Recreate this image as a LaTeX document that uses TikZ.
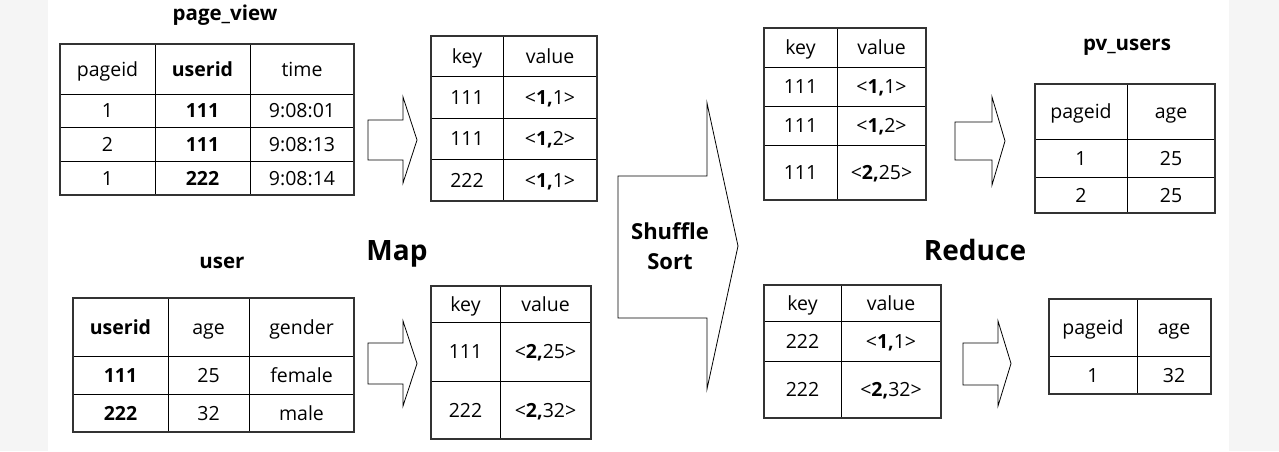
\documentclass[tikz,border=0pt]{standalone}
\usepackage{fontspec}
\setmainfont{Open Sans}
\begin{document}
\begin{tikzpicture}[x=1pt,y=-1pt,
  cell/.style={font=\fontsize{19.5}{22}\selectfont, inner sep=0pt, anchor=center, text height=14pt, text depth=0pt},
  ttl/.style={font=\fontsize{20.5}{24}\selectfont\bfseries, inner sep=0pt, text height=15pt, text depth=0pt},
  big/.style={font=\fontsize{28}{32}\selectfont\bfseries, inner sep=0pt, text height=20pt, text depth=0pt},
  gridline/.style={line width=0.9pt, black},
  frame/.style={line width=1.3pt, black!80},
  blockarrow/.style={line width=0.8pt, black, fill=white, line join=miter}]
\useasboundingbox (0,0) rectangle (1279,451);
\fill[white] (0,0) rectangle (1279,451);
\fill[black!4] (0,0) rectangle (48,451);
\fill[black!4] (1229,0) rectangle (1279,451);

% ---------- page_view ----------
\node[ttl] (tpv) at (225,13) {page\_view};
\draw[gridline] (155,44) -- (155,195) (250,44) -- (250,195)
  (60,94) -- (354,94) (60,127) -- (354,127) (60,161) -- (354,161);
\draw[frame] (60,44) rectangle (354,195);
\node[cell] (pv11) at (107.5,69) {pageid};
\node[cell] (pv12) at (202.5,69) {\bfseries userid};
\node[cell] (pv13) at (302,69) {time};
\node[cell] (pv21) at (107.5,110.5) {1};
\node[cell] (pv22) at (202.5,110.5) {\bfseries 111};
\node[cell] (pv23) at (302,110.5) {9:08:01};
\node[cell] (pv31) at (107.5,144) {2};
\node[cell] (pv32) at (202.5,144) {\bfseries 111};
\node[cell] (pv33) at (302,144) {9:08:13};
\node[cell] (pv41) at (107.5,178) {1};
\node[cell] (pv42) at (202.5,178) {\bfseries 222};
\node[cell] (pv43) at (302,178) {9:08:14};

% ---------- user ----------
\node[ttl] (tus) at (222,261) {user};
\draw[gridline] (168,298) -- (168,432) (249,298) -- (249,432)
  (73,356) -- (354,356) (73,394) -- (354,394);
\draw[frame] (73,298) rectangle (354,432);
\node[cell] (us11) at (120.5,327) {\bfseries userid};
\node[cell] (us12) at (208.5,327) {age};
\node[cell] (us13) at (301.5,327) {gender};
\node[cell] (us21) at (120.5,375) {\bfseries 111};
\node[cell] (us22) at (208.5,375) {25};
\node[cell] (us23) at (301.5,375) {female};
\node[cell] (us31) at (120.5,413) {\bfseries 222};
\node[cell] (us32) at (208.5,413) {32};
\node[cell] (us33) at (301.5,413) {male};

% ---------- map arrows ----------
\draw[blockarrow] (368,120) -- (403,120) -- (403,97) -- (417,140) -- (403,183) -- (403,160) -- (368,160) -- cycle;
\draw[blockarrow] (368,343) -- (403,343) -- (403,321) -- (417,363.5) -- (403,406) -- (403,384) -- (368,384) -- cycle;

% ---------- map kv 1 ----------
\draw[gridline] (503,36) -- (503,201) (431,76) -- (597,76) (431,118) -- (597,118) (431,159) -- (597,159);
\draw[frame] (431,36) rectangle (597,201);
\node[cell] (m11) at (467,56) {key};
\node[cell] (m12) at (550,56) {value};
\node[cell] (m21) at (467,97) {111};
\node[cell] (m22) at (550,97) {<\textbf{1,}1>};
\node[cell] (m31) at (467,138.5) {111};
\node[cell] (m32) at (550,138.5) {<\textbf{1,}2>};
\node[cell] (m41) at (467,180) {222};
\node[cell] (m42) at (550,180) {<\textbf{1,}1>};

% ---------- map kv 2 ----------
\draw[gridline] (500,286) -- (500,439) (431,322) -- (591,322) (431,381) -- (591,381);
\draw[frame] (431,286) rectangle (591,439);
\node[cell] (n11) at (465.5,304) {key};
\node[cell] (n12) at (545.5,304) {value};
\node[cell] (n21) at (465.5,351.5) {111};
\node[cell] (n22) at (545.5,351.5) {<\textbf{2,}25>};
\node[cell] (n31) at (465.5,410) {222};
\node[cell] (n32) at (545.5,410) {<\textbf{2,}32>};

\node[big] (lmap) at (397,250) {Map};

% ---------- shuffle ----------
\draw[blockarrow] (618,176) -- (707,176) -- (707,103) -- (738,246) -- (707,389) -- (707,318) -- (618,318) -- cycle;
\node[font=\fontsize{22}{30}\selectfont\bfseries, align=center, inner sep=0pt] (lsh) at (670,246) {Shuffle\\Sort};

% ---------- reduce kv 1 ----------
\draw[gridline] (837,28) -- (837,200) (764,67) -- (926,67) (764,106) -- (926,106) (764,145) -- (926,145);
\draw[frame] (764,28) rectangle (926,200);
\node[cell] (r11) at (800.5,47.5) {key};
\node[cell] (r12) at (881.5,47.5) {value};
\node[cell] (r21) at (800.5,86.5) {111};
\node[cell] (r22) at (881.5,86.5) {<\textbf{1,}1>};
\node[cell] (r31) at (800.5,125.5) {111};
\node[cell] (r32) at (881.5,125.5) {<\textbf{1,}2>};
\node[cell] (r41) at (800.5,172.5) {111};
\node[cell] (r42) at (881.5,172.5) {<\textbf{2,}25>};

% ---------- reduce kv 2 ----------
\draw[gridline] (841,285) -- (841,418) (764,321) -- (941,321) (764,361) -- (941,361);
\draw[frame] (764,285) rectangle (941,418);
\node[cell] (s11) at (802.5,303) {key};
\node[cell] (s12) at (891,303) {value};
\node[cell] (s21) at (802.5,341) {222};
\node[cell] (s22) at (891,341) {<\textbf{1,}1>};
\node[cell] (s31) at (802.5,389.5) {222};
\node[cell] (s32) at (891,389.5) {<\textbf{2,}32>};

\node[big] (lred) at (975,250) {Reduce};

% ---------- reduce arrows ----------
\draw[blockarrow] (955,122) -- (992,122) -- (992,97) -- (1005,141) -- (992,185) -- (992,160) -- (955,160) -- cycle;
\draw[blockarrow] (963,343) -- (998,343) -- (998,321) -- (1011,363.5) -- (998,406) -- (998,385) -- (963,385) -- cycle;

% ---------- pv_users ----------
\node[ttl] (tpu) at (1127,43) {pv\_users};
\draw[gridline] (1127,84) -- (1127,213) (1035,139) -- (1215,139) (1035,177) -- (1215,177);
\draw[frame] (1035,84) rectangle (1215,213);
\node[cell] (p11) at (1081,111.5) {pageid};
\node[cell] (p12) at (1171,111.5) {age};
\node[cell] (p21) at (1081,158) {1};
\node[cell] (p22) at (1171,158) {25};
\node[cell] (p31) at (1081,195) {2};
\node[cell] (p32) at (1171,195) {25};

% ---------- result 2 ----------
\draw[gridline] (1137,299) -- (1137,394) (1049,356) -- (1211,356);
\draw[frame] (1049,299) rectangle (1211,394);
\node[cell] (q11) at (1093,327.5) {pageid};
\node[cell] (q12) at (1174,327.5) {age};
\node[cell] (q21) at (1093,375) {1};
\node[cell] (q22) at (1174,375) {32};
\end{tikzpicture}
\end{document}
